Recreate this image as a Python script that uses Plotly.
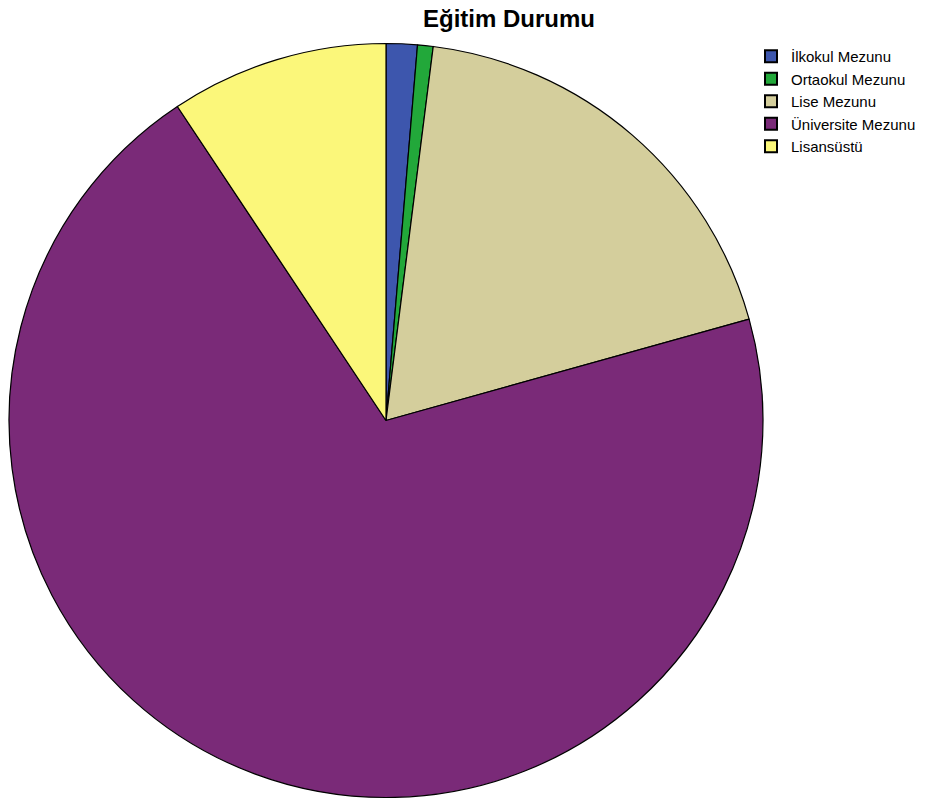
import plotly.graph_objects as go

# Education level distribution
categories = ["İlkokul Mezunu", "Ortaokul Mezunu", "Lise Mezunu", "Üniversite Mezunu", "Lisansüstü"]
counts = [2, 1, 28, 105, 14]
colors = ["#3D56AD", "#22A83A", "#D4CE9C", "#7A2A78", "#FBF77A"]

W, H = 940, 805

fig = go.Figure(
    go.Pie(
        labels=categories,
        values=counts,
        sort=False,
        direction="clockwise",
        rotation=0,
        textinfo="none",
        hoverinfo="label+value+percent",
        marker=dict(colors=colors, line=dict(color="#000000", width=1.2)),
        domain=dict(x=[9 / W, 763 / W], y=[3 / H, 766 / H]),
    )
)

fig.update_layout(
    width=W,
    height=H,
    margin=dict(l=0, r=0, t=0, b=0),
    paper_bgcolor="white",
    plot_bgcolor="white",
    title=dict(
        text="<b>Eğitim Durumu</b>",
        x=509 / W,
        xanchor="center",
        y=1 - 19 / H,
        yanchor="middle",
        font=dict(family="Liberation Sans, Arial, sans-serif", size=24, color="#000000"),
    ),
    legend=dict(
        x=751 / W,
        xanchor="left",
        y=1 - 40 / H,
        yanchor="top",
        font=dict(family="Liberation Sans, Arial, sans-serif", size=15, color="#000000"),
        bgcolor="rgba(0,0,0,0)",
        traceorder="normal",
        itemsizing="constant",
    ),
)

fig.write_html("out.html")
